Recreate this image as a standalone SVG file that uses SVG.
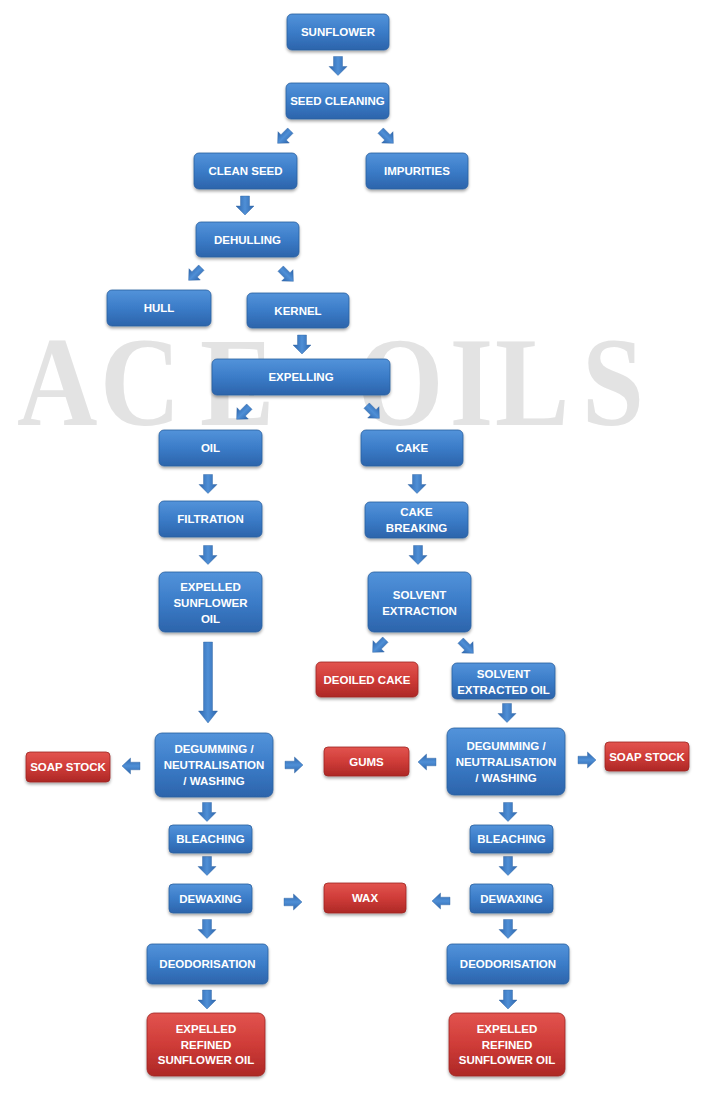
<svg xmlns="http://www.w3.org/2000/svg" width="714" height="1094" viewBox="0 0 714 1094">
<defs>
<linearGradient id="gb" x1="0" y1="0" x2="0" y2="1">
<stop offset="0" stop-color="#5393da"/>
<stop offset="0.5" stop-color="#3b7cc8"/>
<stop offset="1" stop-color="#2c64ab"/>
</linearGradient>
<linearGradient id="gr" x1="0" y1="0" x2="0" y2="1">
<stop offset="0" stop-color="#e2544f"/>
<stop offset="0.5" stop-color="#cf3c38"/>
<stop offset="1" stop-color="#ad2826"/>
</linearGradient>
<linearGradient id="ga" x1="0" y1="0" x2="1" y2="0">
<stop offset="0" stop-color="#2d66ad"/>
<stop offset="0.5" stop-color="#4f8fd6"/>
<stop offset="1" stop-color="#2d66ad"/>
</linearGradient>
<filter id="sh" x="-10%" y="-20%" width="120%" height="150%">
<feDropShadow dx="0" dy="2" stdDeviation="1.6" flood-color="#000" flood-opacity="0.35"/>
</filter>
<path id="ar" d="M-4.5,-9.5 H4.5 V0.5 H9 L0,9.5 L-9,0.5 H-4.5 Z"/>
<path id="ad" d="M-3.8,-9 H3.8 V0.5 H8 L0,9 L-8,0.5 H-3.8 Z"/>
</defs>
<style>
.b rect{fill:url(#gb);stroke:#2a5f9f;stroke-width:0.8;filter:url(#sh)}
.r rect{fill:url(#gr);stroke:#9e2421;stroke-width:0.8;filter:url(#sh)}
text.t{font-family:"Liberation Sans",Arial,sans-serif;font-weight:bold;font-size:11.5px;fill:#fff;text-anchor:middle;dominant-baseline:central}
.conn use,.conn path{fill:url(#ga);stroke:#2a5f9f;stroke-width:0.4}
.wm{font-family:"Liberation Serif","Times New Roman",serif;font-weight:bold;font-size:128px;fill:#e3e3e3}
</style>
<rect width="714" height="1094" fill="#fff"/>
<text class="wm" transform="scale(0.87 1)" x="19.5 115 230 300 410 517 569 669" y="425">ACE OILS</text>

<g id="connectors" class="conn">
<use href="#ar" transform="translate(338,66)"/>
<use href="#ad" transform="translate(284,137) rotate(45)"/>
<use href="#ad" transform="translate(387,137) rotate(-45)"/>
<use href="#ar" transform="translate(245,205.5)"/>
<use href="#ad" transform="translate(195,274) rotate(45)"/>
<use href="#ad" transform="translate(287,275) rotate(-45)"/>
<use href="#ar" transform="translate(302,344.5)"/>
<use href="#ad" transform="translate(243,413) rotate(45)"/>
<use href="#ad" transform="translate(373,412) rotate(-45)"/>
<use href="#ar" transform="translate(208,484)"/>
<use href="#ar" transform="translate(417,484)"/>
<use href="#ar" transform="translate(208,555)"/>
<use href="#ar" transform="translate(418,555)"/>
<path d="M203.5,642 H212.5 V711 H217.5 L208,723 L198.5,711 H203.5 Z"/>
<use href="#ad" transform="translate(379,646) rotate(45)"/>
<use href="#ad" transform="translate(467,647) rotate(-45)"/>
<use href="#ar" transform="translate(507,713)"/>
<use href="#ad" transform="translate(131,766) rotate(90)"/>
<use href="#ad" transform="translate(294,765) rotate(-90)"/>
<use href="#ad" transform="translate(427,762) rotate(90)"/>
<use href="#ad" transform="translate(587,760) rotate(-90)"/>
<use href="#ar" transform="translate(207,812)"/>
<use href="#ar" transform="translate(508,812)"/>
<use href="#ar" transform="translate(207,866)"/>
<use href="#ar" transform="translate(508,866)"/>
<use href="#ad" transform="translate(293,902) rotate(-90)"/>
<use href="#ad" transform="translate(441,901) rotate(90)"/>
<use href="#ar" transform="translate(207,929)"/>
<use href="#ar" transform="translate(508,929)"/>
<use href="#ar" transform="translate(207,999.5)"/>
<use href="#ar" transform="translate(508,999.5)"/>
</g>

<g id="sunflower" class="b"><rect x="287" y="14" width="102" height="36" rx="5"/><text class="t" x="338" y="32">SUNFLOWER</text></g>
<g id="seed-cleaning" class="b"><rect x="286" y="83" width="103" height="36" rx="5"/><text class="t" x="337.5" y="101">SEED CLEANING</text></g>
<g id="clean-seed" class="b"><rect x="194" y="153" width="103" height="36" rx="5"/><text class="t" x="245.5" y="171">CLEAN SEED</text></g>
<g id="impurities" class="b"><rect x="366" y="153" width="102" height="36" rx="5"/><text class="t" x="417" y="171">IMPURITIES</text></g>
<g id="dehulling" class="b"><rect x="196" y="222" width="103" height="35" rx="5"/><text class="t" x="247.5" y="239.5">DEHULLING</text></g>
<g id="hull" class="b"><rect x="107" y="290" width="104" height="36" rx="5"/><text class="t" x="159" y="308">HULL</text></g>
<g id="kernel" class="b"><rect x="247" y="293" width="102" height="35" rx="5"/><text class="t" x="298" y="310.5">KERNEL</text></g>
<g id="expelling" class="b"><rect x="212" y="359" width="178" height="36" rx="5"/><text class="t" x="301" y="377">EXPELLING</text></g>
<g id="oil" class="b"><rect x="159" y="430" width="103" height="36" rx="5"/><text class="t" x="210.5" y="448">OIL</text></g>
<g id="cake" class="b"><rect x="361" y="430" width="102" height="36" rx="5"/><text class="t" x="412" y="448">CAKE</text></g>
<g id="filtration" class="b"><rect x="159" y="501" width="103" height="36" rx="5"/><text class="t" x="210.5" y="519">FILTRATION</text></g>
<g id="cake-breaking" class="b"><rect x="365" y="502" width="103" height="36" rx="5"/><text class="t" x="416.5" y="512">CAKE</text><text class="t" x="416.5" y="528">BREAKING</text></g>
<g id="expelled-sunflower-oil" class="b"><rect x="159" y="572" width="103" height="60" rx="6"/><text class="t" x="210.5" y="587">EXPELLED</text><text class="t" x="210.5" y="603">SUNFLOWER</text><text class="t" x="210.5" y="619">OIL</text></g>
<g id="solvent-extraction" class="b"><rect x="368" y="572" width="103" height="60" rx="6"/><text class="t" x="419.5" y="595">SOLVENT</text><text class="t" x="419.5" y="611">EXTRACTION</text></g>
<g id="deoiled-cake" class="r"><rect x="316" y="662" width="102" height="35" rx="5"/><text class="t" x="367" y="679.5">DEOILED CAKE</text></g>
<g id="solvent-extracted-oil" class="b"><rect x="452" y="663" width="103" height="36" rx="5"/><text class="t" x="503.5" y="674">SOLVENT</text><text class="t" x="503.5" y="690">EXTRACTED OIL</text></g>
<g id="soap-stock-left" class="r"><rect x="26" y="752" width="84" height="30" rx="4"/><text class="t" x="68" y="767">SOAP STOCK</text></g>
<g id="degumming-left" class="b"><rect x="155" y="733" width="118" height="64" rx="7"/><text class="t" x="214" y="749">DEGUMMING /</text><text class="t" x="214" y="765">NEUTRALISATION</text><text class="t" x="214" y="781">/ WASHING</text></g>
<g id="gums" class="r"><rect x="324" y="747" width="85" height="29" rx="4"/><text class="t" x="366.5" y="761.5">GUMS</text></g>
<g id="degumming-right" class="b"><rect x="447" y="728" width="118" height="67" rx="7"/><text class="t" x="506" y="746">DEGUMMING /</text><text class="t" x="506" y="762">NEUTRALISATION</text><text class="t" x="506" y="778">/ WASHING</text></g>
<g id="soap-stock-right" class="r"><rect x="605" y="742" width="84" height="29" rx="4"/><text class="t" x="647" y="756.5">SOAP STOCK</text></g>
<g id="bleaching-left" class="b"><rect x="169" y="825" width="83" height="28" rx="4"/><text class="t" x="210.5" y="839">BLEACHING</text></g>
<g id="bleaching-right" class="b"><rect x="470" y="825" width="83" height="28" rx="4"/><text class="t" x="511.5" y="839">BLEACHING</text></g>
<g id="dewaxing-left" class="b"><rect x="169" y="884" width="83" height="29" rx="4"/><text class="t" x="210.5" y="898.5">DEWAXING</text></g>
<g id="wax" class="r"><rect x="324" y="883" width="82" height="30" rx="4"/><text class="t" x="365" y="898">WAX</text></g>
<g id="dewaxing-right" class="b"><rect x="470" y="884" width="83" height="29" rx="4"/><text class="t" x="511.5" y="898.5">DEWAXING</text></g>
<g id="deodorisation-left" class="b"><rect x="147" y="944" width="121" height="40" rx="5"/><text class="t" x="207.5" y="964">DEODORISATION</text></g>
<g id="deodorisation-right" class="b"><rect x="447" y="944" width="122" height="40" rx="5"/><text class="t" x="508" y="964">DEODORISATION</text></g>
<g id="refined-oil-left" class="r"><rect x="147" y="1013" width="118" height="63" rx="7"/><text class="t" x="206" y="1029">EXPELLED</text><text class="t" x="206" y="1044.5">REFINED</text><text class="t" x="206" y="1060">SUNFLOWER OIL</text></g>
<g id="refined-oil-right" class="r"><rect x="449" y="1013" width="116" height="63" rx="7"/><text class="t" x="507" y="1029">EXPELLED</text><text class="t" x="507" y="1044.5">REFINED</text><text class="t" x="507" y="1060">SUNFLOWER OIL</text></g>
</svg>
